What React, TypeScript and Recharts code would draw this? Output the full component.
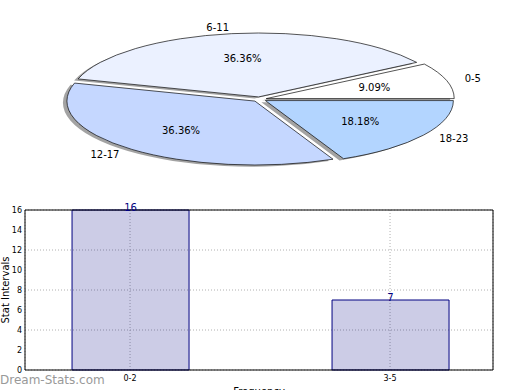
import { PieChart, Pie, Cell, BarChart, Bar, XAxis, YAxis, CartesianGrid, ReferenceLine, LabelList } from 'recharts'

const pieNames = ['0-5', '6-11', '12-17', '18-23']
const pieValues = [1, 4, 4, 2]
const pieColors = ['#ffffff', '#ebf1ff', '#c5d7ff', '#b3d5ff']

const barCategories = ['0-2', '3-5']
const barValues = [16, 7]
const yTicks = [0, 2, 4, 6, 8, 10, 12, 14, 16]

const FONT = 'DejaVu Sans, sans-serif'

// pie is drawn as a circle then squashed into an ellipse
const K = 0.34
const CX = 259.5
const CY = 292
const R = 188
const EXPLODE = 7

const pieData = pieNames.map((name, i) => ({ name, value: pieValues[i] }))
const pieTotal = pieValues.reduce((s, v) => s + v, 0)
const midAngles = pieValues.map((v, i) => {
  const before = pieValues.slice(0, i).reduce((s, x) => s + x, 0)
  return (360 * (before + v / 2)) / pieTotal
})

const barData = barCategories.map((label, i) => ({ x: i, label, value: barValues[i] }))
const X_DOMAIN: [number, number] = [-0.404, 1.396]

const rad = (a: number) => (a * Math.PI) / 180

function sliceCenter(i: number) {
  const a = rad(midAngles[i])
  return { x: CX + EXPLODE * Math.cos(a), y: CY - EXPLODE * Math.sin(a) }
}

function Upright({ x, y, anchor, children }: { x: number; y: number; anchor: string; children: string }) {
  return (
    <g transform={`translate(${x} ${y}) scale(1 ${1 / K})`}>
      <text x={0} y={0} textAnchor={anchor} dominantBaseline="central" fontSize={10} fontFamily={FONT} fill="#000">
        {children}
      </text>
    </g>
  )
}

const makeLabel = (i: number) => (props: any) => {
  if (props.index !== i) return null
  const c = sliceCenter(i)
  const a = rad(midAngles[i])
  const ox = c.x + R * 1.1 * Math.cos(a)
  const oy = c.y - R * 1.1 * Math.sin(a)
  const px = c.x + R * 0.6 * Math.cos(a)
  const py = c.y - R * 0.6 * Math.sin(a)
  const pct = ((pieValues[i] / pieTotal) * 100).toFixed(2) + '%'
  return (
    <g>
      <Upright x={ox} y={oy} anchor={Math.cos(a) >= 0 ? 'start' : 'end'}>{pieNames[i]}</Upright>
      <Upright x={px} y={py} anchor="middle">{pct}</Upright>
    </g>
  )
}

export default function App() {
  return (
    <div style={{ position: 'absolute', left: 0, top: 0, width: 520, height: 390, background: '#fff', overflow: 'hidden' }}>
      <div style={{ position: 'absolute', left: 0, top: 0, width: 520, height: 500, transform: `scaleY(${K})`, transformOrigin: '0 0' }}>
        <PieChart width={520} height={500} margin={{ top: 0, right: 0, bottom: 0, left: 0 }}>
          {pieNames.map((_, i) => {
            const c = sliceCenter(i)
            return (
              <Pie key={'s' + i} data={pieData} dataKey="value" nameKey="name" cx={c.x - 4} cy={c.y + 5} outerRadius={R}
                startAngle={0} endAngle={360} isAnimationActive={false} label={false} labelLine={false}>
                {pieData.map((d, j) => (
                  <Cell key={d.name} fill={j === i ? '#666' : 'none'} fillOpacity={0.6} stroke="none" />
                ))}
              </Pie>
            )
          })}
          {pieNames.map((_, i) => {
            const c = sliceCenter(i)
            return (
              <Pie key={'p' + i} data={pieData} dataKey="value" nameKey="name" cx={c.x} cy={c.y} outerRadius={R}
                startAngle={0} endAngle={360} isAnimationActive={false} label={makeLabel(i)} labelLine={false}>
                {pieData.map((d, j) => (
                  <Cell key={d.name} fill={j === i ? pieColors[j] : 'none'} stroke={j === i ? '#000' : 'none'}
                    strokeWidth={1} vectorEffect="non-scaling-stroke" />
                ))}
              </Pie>
            )
          })}
        </PieChart>
      </div>

      <div style={{ position: 'absolute', left: 0, top: 0 }}>
        <BarChart width={520} height={390} data={barData} margin={{ top: 210, right: 27, bottom: 0, left: 0 }}>
          <CartesianGrid stroke="#b0b0b0" strokeDasharray="1 2" />
          <XAxis dataKey="x" type="number" domain={X_DOMAIN} ticks={[0, 1]} allowDataOverflow
            tickFormatter={(v: number) => barCategories[v]} height={20} tickSize={0} tickMargin={5}
            stroke="#000" tick={{ fontSize: 8, fill: '#000', fontFamily: FONT }}
            label={{ value: 'Frequency', position: 'insideBottom', offset: -5, fontSize: 10, fill: '#000', fontFamily: FONT }} />
          <YAxis domain={[0, 16]} ticks={yTicks} width={25} tickSize={0} tickMargin={3} stroke="#000"
            tick={{ fontSize: 8, fill: '#000', fontFamily: FONT }}
            label={{ value: 'Stat Intervals', angle: -90, position: 'insideLeft', offset: 5, fontSize: 10, fill: '#000', fontFamily: FONT, style: { textAnchor: 'middle' } }} />
          <ReferenceLine y={16} stroke="#000" />
          <ReferenceLine x={X_DOMAIN[1]} stroke="#000" />
          <Bar dataKey="value" barSize={117} fill="#000080" fillOpacity={0.2} stroke="#000080" isAnimationActive={false}>
            <LabelList dataKey="value" position="top" offset={-1} fill="#000080" fontSize={10} fontFamily={FONT} />
          </Bar>
        </BarChart>
      </div>

      <div style={{ position: 'absolute', left: 0, top: 374, fontFamily: FONT, fontSize: 12, lineHeight: '12px', color: '#999' }}>
        Dream-Stats.com
      </div>
    </div>
  )
}
